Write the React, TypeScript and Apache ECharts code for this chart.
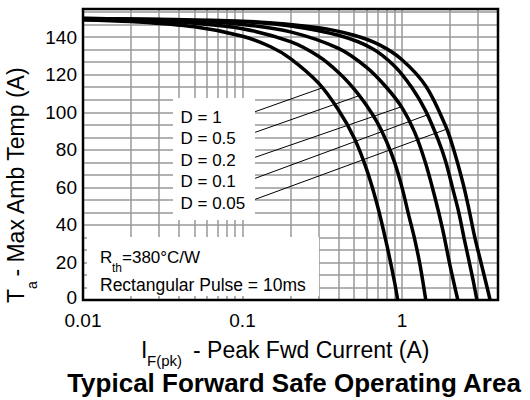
import React, { useEffect, useRef } from 'react';
import * as echarts from 'echarts';

// x grid positions (log decades subdivided), labelled decades
const xGridValues = [
  0.01, 0.02, 0.03, 0.04, 0.05, 0.06, 0.07, 0.08, 0.09,
  0.1, 0.2, 0.3, 0.4, 0.5, 0.6, 0.7, 0.8, 0.9,
  1, 2, 3, 4,
];
const xLabelValues = [0.01, 0.1, 1];
const yLabelStep = 20;

// Curves: [I_F(pk) (A), T_a (°C)]
const curveD1: [number, number][] = [
  [0.01, 149.2], [0.02, 148.3], [0.05, 145.5], [0.1, 140.5], [0.15, 134.9],
  [0.2, 128.6], [0.3, 115.5], [0.4, 101.2], [0.5, 86.5], [0.6, 69.6],
  [0.7, 50.6], [0.8, 30], [0.9, 9.2], [0.94, 0],
];
const curveD05: [number, number][] = [
  [0.01, 149.5], [0.02, 149], [0.05, 147.4], [0.1, 144.5], [0.2, 137.6],
  [0.3, 129.8], [0.4, 121.2], [0.5, 112.5], [0.6, 103.6], [0.7, 94.6],
  [0.8, 84.4], [0.9, 73.2], [1.0, 60], [1.1, 45.5], [1.2, 32.6],
  [1.3, 18.3], [1.41, 0],
];
const curveD02: [number, number][] = [
  [0.01, 150], [0.05, 148.5], [0.1, 146.8], [0.2, 142.8], [0.4, 134],
  [0.6, 123.9], [0.8, 113.2], [1.0, 102.5], [1.2, 89.4], [1.4, 73.4],
  [1.6, 55.5], [1.8, 37.5], [2.0, 18.5], [2.24, 0],
];
const curveD01: [number, number][] = [
  [0.01, 150], [0.1, 148.2], [0.2, 146], [0.4, 141], [0.65, 134],
  [0.9, 124.5], [1.155, 113], [1.41, 100.6], [1.7, 84.5], [1.875, 74],
  [2.1, 58], [2.27, 46.7], [2.45, 33], [2.62, 21.6], [2.8, 10], [2.95, 0],
];
const curveD005: [number, number][] = [
  [0.01, 150], [0.1, 148.5], [0.3, 145], [0.5, 141], [0.718, 136],
  [1.0, 128], [1.41, 114], [1.875, 92.8], [2.1, 80.7], [2.4, 63],
  [2.62, 49], [2.85, 34], [3.1, 21.3], [3.3, 12], [3.57, 0],
];

const dutyLabels = ['D = 1', 'D = 0.5', 'D = 0.2', 'D = 0.1', 'D = 0.05'];
const leaderStarts: [number, number][] = [
  [0.12, 100.3], [0.12, 89.3], [0.12, 76], [0.12, 64.8], [0.12, 53.6],
];
const leaderEnds: [number, number][] = [
  [0.314, 112.9], [0.546, 109], [0.996, 103], [1.43, 98.5], [1.905, 91],
];

const FONT = '"Liberation Sans", Arial, Helvetica, sans-serif';

export default function App() {
  const ref = useRef<HTMLDivElement>(null);

  useEffect(() => {
    const chart = echarts.init(ref.current!, null, { renderer: 'svg' });
    const curves = [curveD1, curveD05, curveD02, curveD01, curveD005];

    const series: any[] = [
      ...curves.map((d, i) => ({
        type: 'line',
        name: dutyLabels[i],
        data: d,
        smooth: 0.35,
        symbol: 'none',
        lineStyle: { color: '#000', width: 3.5 },
        z: 3,
      })),
      ...leaderStarts.map((s, i) => ({
        type: 'line',
        data: [s, leaderEnds[i]],
        symbol: 'none',
        lineStyle: { color: '#000', width: 1 },
        z: 3,
      })),
    ];

    const txt = (text: string, x: number, y: number, size: number, extra: any = {}) => ({
      type: 'text',
      x,
      y,
      z: 5,
      ...extra,
      style: {
        text,
        fill: '#000',
        font: `${extra.bold ? 'bold ' : ''}${size}px ${FONT}`,
        textAlign: extra.align || 'left',
        textVerticalAlign: 'middle',
      },
    });

    const dutyTexts = dutyLabels.map((t, i) => txt(t, 180.5, 117.3 + i * 21.5, 17));

    chart.setOption({
      animation: false,
      backgroundColor: '#fff',
      grid: { left: 83, top: 9, width: 415, height: 291, containLabel: false },
      xAxis: {
        type: 'log',
        logBase: 10,
        min: 0.01,
        max: 4,
        axisLine: { show: false },
        axisTick: { show: false, customValues: xGridValues },
        axisLabel: {
          customValues: xLabelValues,
          color: '#000',
          fontSize: 19,
          lineHeight: 16,
          fontFamily: FONT,
          margin: 12,
          formatter: (v: number) => String(parseFloat(Number(v).toPrecision(6))),
        },
        splitLine: {
          show: true,
          showMinLine: false,
          showMaxLine: false,
          lineStyle: { color: '#999', width: 1.5 },
        },
      },
      yAxis: {
        type: 'value',
        min: 0,
        max: 155,
        interval: yLabelStep / 3,
        axisLine: { show: false },
        axisTick: { show: false },
        axisLabel: {
          color: '#000',
          fontSize: 19,
          fontFamily: FONT,
          margin: 6,
          rich: {
            z: { fontSize: 19, fontFamily: FONT, color: '#000', padding: [0, 0, 6, 0] },
          },
          formatter: (v: number) => {
            const r = Math.round(v / yLabelStep);
            if (Math.abs(v / yLabelStep - r) >= 1e-4) return '';
            return r === 0 ? '{z|0}' : String(r * yLabelStep);
          },
        },
        splitLine: {
          show: true,
          showMinLine: false,
          showMaxLine: false,
          lineStyle: { color: '#999', width: 1.5 },
        },
      },
      graphic: {
        elements: [
          { type: 'rect', z: 1, shape: { x: 173, y: 98, width: 82, height: 122 }, style: { fill: '#fff' } },
          { type: 'rect', z: 1, shape: { x: 87, y: 237, width: 232, height: 59 }, style: { fill: '#fff' } },
          {
            type: 'rect', z: 10,
            shape: { x: 83, y: 9, width: 415, height: 291 },
            style: { fill: 'none', stroke: '#000', lineWidth: 2.5 },
          },
          ...dutyTexts,
          txt('R', 100, 257, 17),
          txt('th', 112, 268, 12),
          txt('=380°C/W', 122, 257, 17),
          txt('Rectangular Pulse = 10ms', 100, 285, 17.5),
          txt('I', 141, 350, 23),
          txt('F(pk)', 147, 360, 15),
          txt('- Peak Fwd Current (A)', 193, 350, 23),
          txt('T', 16, 303, 23, { rotation: Math.PI / 2 }),
          txt('a', 32, 289, 14, { rotation: Math.PI / 2 }),
          txt(' - Max Amb Temp (A)', 16, 283, 23, { rotation: Math.PI / 2 }),
          txt('Typical Forward Safe Operating Area', 294, 383, 26, { bold: true, align: 'center' }),
        ],
      },
      series,
    });

    return () => chart.dispose();
  }, []);

  return (
    <div
      ref={ref}
      style={{ position: 'fixed', left: 0, top: 0, width: 530, height: 400, background: '#fff' }}
    />
  );
}
